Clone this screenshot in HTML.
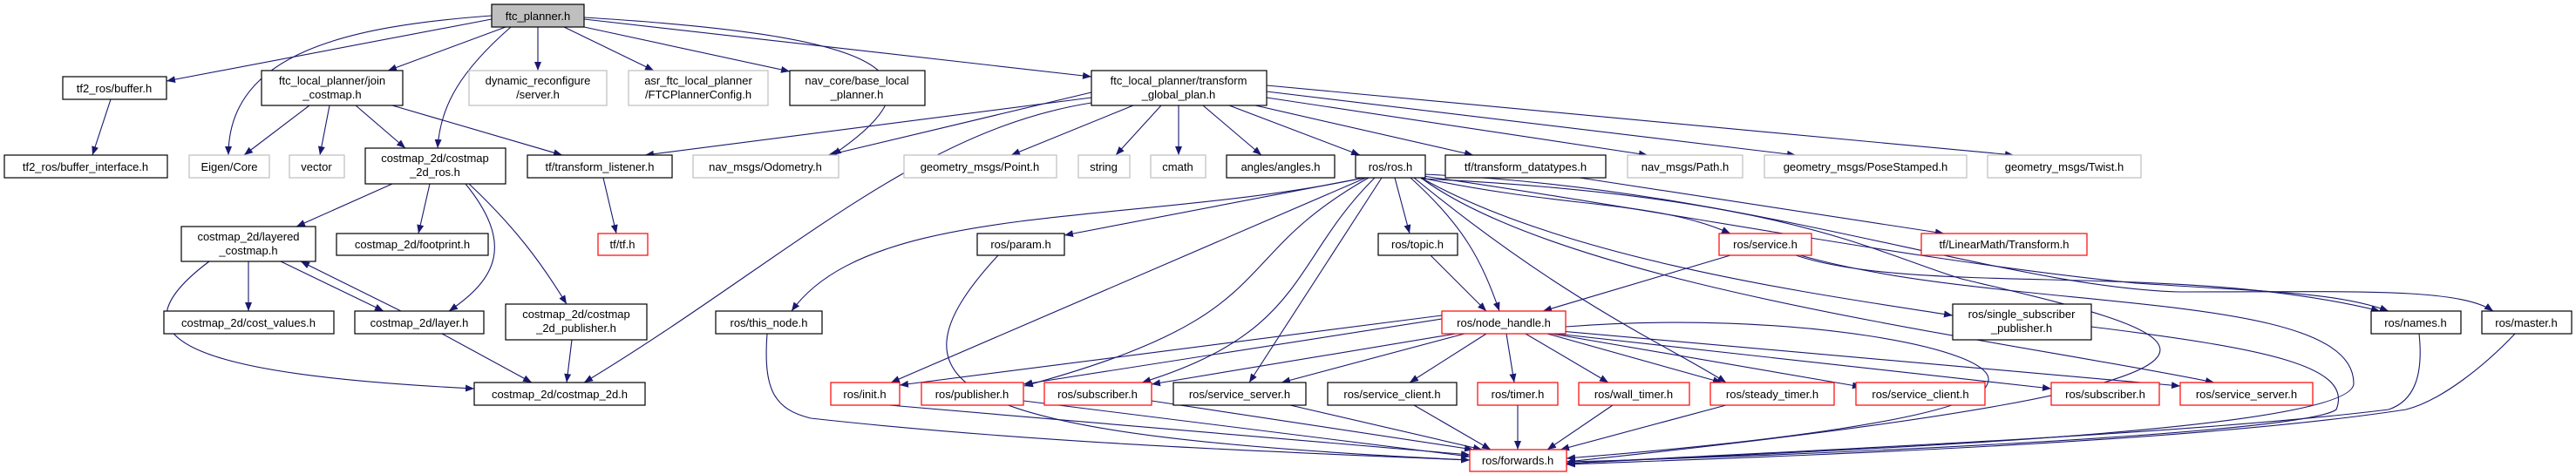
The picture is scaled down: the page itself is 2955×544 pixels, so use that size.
<!DOCTYPE html>
<html><head><meta charset="utf-8"><style>
html,body{margin:0;padding:0;background:#fff}
svg{display:block}
text{font-family:"Liberation Sans",sans-serif;font-size:13px;fill:#000;text-anchor:middle}
.b{fill:#fff;stroke:#000;stroke-width:1.2}
.g{fill:#fff;stroke:#bfbfbf;stroke-width:1.2}
.r{fill:#fff;stroke:#ff0000;stroke-width:1.2}
.e{fill:none;stroke:#191970;stroke-width:1.1;marker-end:url(#ah)}
</style></head><body>
<svg width="2955" height="544" viewBox="0 0 2955 544" xmlns="http://www.w3.org/2000/svg">
<defs><marker id="ah" markerUnits="userSpaceOnUse" markerWidth="11" markerHeight="8" refX="10" refY="4" orient="auto"><path d="M0,0 L10,4 L0,8 z" fill="#191970"/></marker></defs>
<g>
<path class="e" d="M564,22 L191,93"/>
<path class="e" d="M564,18 C400,30 262,60 262,178"/>
<path class="e" d="M580,31 L445,81"/>
<path class="e" d="M586,31 C530,80 505,120 502,170"/>
<path class="e" d="M617,31 L617,81"/>
<path class="e" d="M647,31 L750,81"/>
<path class="e" d="M670,31 L906,82"/>
<path class="e" d="M670,22 L1252,88"/>
<path class="e" d="M670,20 C1000,40 1100,80 955,178"/>
<path class="e" d="M127,114 L106,178"/>
<path class="e" d="M355,121 L280,178"/>
<path class="e" d="M378,121 L367,178"/>
<path class="e" d="M408,121 L465,170"/>
<path class="e" d="M450,121 L645,178"/>
<path class="e" d="M1252,112 L740,178"/>
<path class="e" d="M1252,106 L950,178"/>
<path class="e" d="M1252,118 C1050,150 900,300 670,439"/>
<path class="e" d="M1300,121 L1160,178"/>
<path class="e" d="M1332,121 L1280,178"/>
<path class="e" d="M1352,121 L1352,178"/>
<path class="e" d="M1380,121 L1447,178"/>
<path class="e" d="M1410,121 L1560,178"/>
<path class="e" d="M1440,121 L1690,178"/>
<path class="e" d="M1453,112 L1890,178"/>
<path class="e" d="M1453,105 L2060,178"/>
<path class="e" d="M1453,98 L2310,178"/>
<path class="e" d="M692,204 L707,268"/>
<path class="e" d="M1812,204 L2230,268"/>
<path class="e" d="M450,211 L340,260"/>
<path class="e" d="M493,211 L480,268"/>
<path class="e" d="M534,211 C590,280 570,320 515,357"/>
<path class="e" d="M538,211 C590,260 620,300 650,349"/>
<path class="e" d="M285,300 L285,357"/>
<path class="e" d="M322,300 L440,357"/>
<path class="e" d="M460,357 L345,300"/>
<path class="e" d="M240,300 C120,390 220,430 544,446"/>
<path class="e" d="M507,383 L610,439"/>
<path class="e" d="M656,390 L650,439"/>
<path class="e" d="M1565,204 C1300,260 1000,230 908,357"/>
<path class="e" d="M1565,204 L1221,270"/>
<path class="e" d="M1567,204 L1022,439"/>
<path class="e" d="M1570,204 C1400,300 1480,360 1175,443"/>
<path class="e" d="M1577,204 C1480,300 1500,380 1310,439"/>
<path class="e" d="M1585,204 L1433,439"/>
<path class="e" d="M1600,204 L1617,268"/>
<path class="e" d="M1618,204 C1680,260 1700,300 1720,357"/>
<path class="e" d="M1630,204 C1800,240 1900,230 1985,268"/>
<path class="e" d="M1630,204 C1800,300 2100,340 2240,362"/>
<path class="e" d="M1632,202 C1900,240 2200,300 2450,325 C2600,335 2680,335 2740,357"/>
<path class="e" d="M1632,200 C2000,215 2300,330 2500,335 C2700,335 2820,330 2860,357"/>
<path class="e" d="M1622,204 C1800,350 1920,400 1980,439"/>
<path class="e" d="M1630,204 C1800,330 2300,390 2540,439"/>
<path class="e" d="M1630,205 C2050,225 2150,290 2250,320 C2500,380 2750,430 1797,530"/>
<path class="e" d="M1145,293 C1000,450 1100,500 1686,528"/>
<path class="e" d="M1641,293 L1705,357"/>
<path class="e" d="M1985,293 L1770,357"/>
<path class="e" d="M2060,293 C2200,340 2500,300 2730,357"/>
<path class="e" d="M2065,293 C2300,360 2700,330 2700,440 C2700,500 2000,520 1797,532"/>
<path class="e" d="M1654,362 L1032,442"/>
<path class="e" d="M1654,366 L1174,441"/>
<path class="e" d="M1670,383 L1321,441"/>
<path class="e" d="M1680,383 L1470,439"/>
<path class="e" d="M1705,383 L1617,439"/>
<path class="e" d="M1728,383 L1737,439"/>
<path class="e" d="M1750,383 L1845,439"/>
<path class="e" d="M1775,383 L1975,439"/>
<path class="e" d="M1780,383 L2135,444"/>
<path class="e" d="M1785,383 L2353,446"/>
<path class="e" d="M1790,380 L2501,443"/>
<path class="e" d="M1796,375 C2050,355 2300,400 2280,440 C2270,480 2000,510 1797,526"/>
<path class="e" d="M1020,465 L1686,522"/>
<path class="e" d="M1174,460 L1686,524"/>
<path class="e" d="M1321,460 L1690,516"/>
<path class="e" d="M1480,465 L1700,516"/>
<path class="e" d="M1622,465 L1710,516"/>
<path class="e" d="M1741,465 L1741,516"/>
<path class="e" d="M1850,465 L1775,516"/>
<path class="e" d="M1980,465 L1790,516"/>
<path class="e" d="M880,383 C875,450 890,470 930,480 C1200,510 1500,520 1686,528"/>
<path class="e" d="M2399,375 C2600,400 2700,420 2680,470 C2640,500 2000,525 1797,530"/>
<path class="e" d="M2775,383 C2780,430 2770,460 2740,470 C2500,500 2000,520 1797,532"/>
<path class="e" d="M2885,383 C2850,420 2800,460 2760,470 C2500,510 2000,525 1797,533"/>
</g>
<g>
<rect x="564" y="5" width="106" height="26" fill="#bfbfbf" stroke="#000" stroke-width="1.2"/><text x="617" y="23">ftc_planner.h</text>
<rect class="b" x="72" y="88" width="119" height="26"/><text x="131" y="106">tf2_ros/buffer.h</text>
<rect class="b" x="300" y="81" width="162" height="40"/><text x="381" y="97">ftc_local_planner/join</text><text x="381" y="113">_costmap.h</text>
<rect class="g" x="538" y="81" width="158" height="40"/><text x="617" y="97">dynamic_reconfigure</text><text x="617" y="113">/server.h</text>
<rect class="g" x="721" y="81" width="160" height="40"/><text x="801" y="97">asr_ftc_local_planner</text><text x="801" y="113">/FTCPlannerConfig.h</text>
<rect class="b" x="906" y="81" width="155" height="40"/><text x="983" y="97">nav_core/base_local</text><text x="983" y="113">_planner.h</text>
<rect class="b" x="1252" y="81" width="201" height="40"/><text x="1352" y="97">ftc_local_planner/transform</text><text x="1352" y="113">_global_plan.h</text>
<rect class="b" x="5" y="178" width="187" height="26"/><text x="98" y="196">tf2_ros/buffer_interface.h</text>
<rect class="g" x="217" y="178" width="92" height="26"/><text x="263" y="196">Eigen/Core</text>
<rect class="g" x="332" y="178" width="63" height="26"/><text x="363" y="196">vector</text>
<rect class="b" x="419" y="170" width="161" height="41"/><text x="499" y="186">costmap_2d/costmap</text><text x="499" y="202">_2d_ros.h</text>
<rect class="b" x="605" y="178" width="166" height="26"/><text x="688" y="196">tf/transform_listener.h</text>
<rect class="g" x="795" y="178" width="167" height="26"/><text x="878" y="196">nav_msgs/Odometry.h</text>
<rect class="g" x="1037" y="178" width="175" height="26"/><text x="1124" y="196">geometry_msgs/Point.h</text>
<rect class="g" x="1237" y="178" width="59" height="26"/><text x="1266" y="196">string</text>
<rect class="g" x="1320" y="178" width="63" height="26"/><text x="1351" y="196">cmath</text>
<rect class="b" x="1407" y="178" width="124" height="26"/><text x="1469" y="196">angles/angles.h</text>
<rect class="b" x="1555" y="178" width="80" height="26"/><text x="1595" y="196">ros/ros.h</text>
<rect class="b" x="1658" y="178" width="184" height="26"/><text x="1750" y="196">tf/transform_datatypes.h</text>
<rect class="g" x="1867" y="178" width="132" height="26"/><text x="1933" y="196">nav_msgs/Path.h</text>
<rect class="g" x="2024" y="178" width="232" height="26"/><text x="2140" y="196">geometry_msgs/PoseStamped.h</text>
<rect class="g" x="2280" y="178" width="176" height="26"/><text x="2368" y="196">geometry_msgs/Twist.h</text>
<rect class="b" x="208" y="260" width="154" height="40"/><text x="285" y="276">costmap_2d/layered</text><text x="285" y="292">_costmap.h</text>
<rect class="b" x="386" y="268" width="174" height="25"/><text x="473" y="285">costmap_2d/footprint.h</text>
<rect class="r" x="686" y="268" width="57" height="25"/><text x="714" y="285">tf/tf.h</text>
<rect class="b" x="1121" y="268" width="100" height="25"/><text x="1171" y="285">ros/param.h</text>
<rect class="b" x="1581" y="268" width="91" height="25"/><text x="1626" y="285">ros/topic.h</text>
<rect class="r" x="1972" y="268" width="106" height="25"/><text x="2025" y="285">ros/service.h</text>
<rect class="r" x="2204" y="268" width="190" height="25"/><text x="2299" y="285">tf/LinearMath/Transform.h</text>
<rect class="b" x="188" y="357" width="195" height="26"/><text x="285" y="375">costmap_2d/cost_values.h</text>
<rect class="b" x="407" y="357" width="148" height="26"/><text x="481" y="375">costmap_2d/layer.h</text>
<rect class="b" x="580" y="349" width="162" height="41"/><text x="661" y="365">costmap_2d/costmap</text><text x="661" y="381">_2d_publisher.h</text>
<rect class="b" x="821" y="357" width="122" height="26"/><text x="882" y="375">ros/this_node.h</text>
<rect class="r" x="1654" y="357" width="142" height="26"/><text x="1725" y="375">ros/node_handle.h</text>
<rect class="b" x="2240" y="349" width="159" height="41"/><text x="2319" y="365">ros/single_subscriber</text><text x="2319" y="381">_publisher.h</text>
<rect class="b" x="2720" y="357" width="103" height="26"/><text x="2771" y="375">ros/names.h</text>
<rect class="b" x="2847" y="357" width="103" height="26"/><text x="2898" y="375">ros/master.h</text>
<rect class="b" x="544" y="439" width="196" height="26"/><text x="642" y="457">costmap_2d/costmap_2d.h</text>
<rect class="r" x="953" y="439" width="79" height="26"/><text x="992" y="457">ros/init.h</text>
<rect class="r" x="1057" y="439" width="117" height="26"/><text x="1115" y="457">ros/publisher.h</text>
<rect class="r" x="1198" y="439" width="123" height="26"/><text x="1259" y="457">ros/subscriber.h</text>
<rect class="b" x="1346" y="439" width="152" height="26"/><text x="1422" y="457">ros/service_server.h</text>
<rect class="b" x="1523" y="439" width="148" height="26"/><text x="1597" y="457">ros/service_client.h</text>
<rect class="r" x="1695" y="439" width="92" height="26"/><text x="1741" y="457">ros/timer.h</text>
<rect class="r" x="1811" y="439" width="127" height="26"/><text x="1874" y="457">ros/wall_timer.h</text>
<rect class="r" x="1962" y="439" width="142" height="26"/><text x="2033" y="457">ros/steady_timer.h</text>
<rect class="r" x="2129" y="439" width="148" height="26"/><text x="2203" y="457">ros/service_client.h</text>
<rect class="r" x="2353" y="439" width="124" height="26"/><text x="2415" y="457">ros/subscriber.h</text>
<rect class="r" x="2501" y="439" width="152" height="26"/><text x="2577" y="457">ros/service_server.h</text>
<rect class="r" x="1686" y="516" width="111" height="25"/><text x="1741" y="533">ros/forwards.h</text>
</g>
</svg>
</body></html>
